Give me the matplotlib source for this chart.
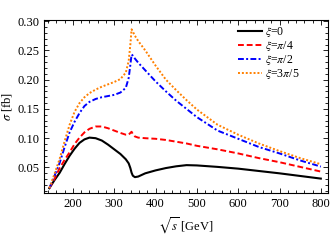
import matplotlib
matplotlib.use("Agg")
import matplotlib.pyplot as plt
from matplotlib.ticker import MultipleLocator

# sqrt(s) in GeV and cross sections in fb
sqrt_s = [143, 155, 168, 180, 192, 204, 216, 228, 240, 255, 270, 285, 300, 315,
          328, 335, 339, 342, 345, 350, 358, 375, 400, 425, 450, 475, 500, 550,
          600, 650, 700, 750, 800]

sigma_xi0 = [0.0146, 0.028, 0.041, 0.056, 0.070, 0.082, 0.092, 0.098, 0.101,
             0.100, 0.096, 0.089, 0.081, 0.073, 0.064, 0.057, 0.049, 0.041,
             0.036, 0.0335, 0.0345, 0.040, 0.045, 0.049, 0.052, 0.054, 0.0535,
             0.051, 0.048, 0.044, 0.040, 0.0355, 0.031]

sigma_xi_pi4 = [0.0146, 0.030, 0.049, 0.063, 0.076, 0.090, 0.101, 0.110, 0.116,
                0.120, 0.120, 0.117, 0.113, 0.109, 0.106, 0.106, 0.109, 0.111,
                0.107, 0.103, 0.101, 0.100, 0.099, 0.097, 0.094, 0.091, 0.087,
                0.081, 0.074, 0.066, 0.059, 0.051, 0.043]

sigma_xi_pi2 = [0.0146, 0.035, 0.058, 0.085, 0.110, 0.128, 0.143, 0.155, 0.162,
                0.167, 0.170, 0.172, 0.174, 0.178, 0.186, 0.203, 0.225, 0.243,
                0.241, 0.236, 0.229, 0.216, 0.197, 0.180, 0.164, 0.150, 0.136,
                0.113, 0.099, 0.085, 0.074, 0.062, 0.0515]

sigma_xi_3pi5 = [0.0146, 0.038, 0.065, 0.095, 0.123, 0.145, 0.160, 0.170, 0.177,
                 0.183, 0.188, 0.192, 0.196, 0.201, 0.212, 0.232, 0.260, 0.286,
                 0.282, 0.275, 0.266, 0.250, 0.224, 0.200, 0.182, 0.165, 0.149,
                 0.123, 0.106, 0.091, 0.078, 0.066, 0.0556]

plt.rcParams["font.family"] = ["Liberation Serif", "DejaVu Serif"]
plt.rcParams["mathtext.fontset"] = "stix"

fig = plt.figure(figsize=(3.32, 2.49), dpi=100)
ax = fig.add_axes([0.1325, 0.223, 0.855, 0.697])

ax.plot(sqrt_s, sigma_xi0, color="black", lw=1.5, label=r"$\xi$=0")
ax.plot(sqrt_s, sigma_xi_pi4, color="#ff0000", lw=1.4, ls=(0, (3, 1.5)),
        label=r"$\xi$=$\pi$/4")
ax.plot(sqrt_s, sigma_xi_pi2, color="#0000ff", lw=1.4, ls=(0, (3, 1.2, 1, 1.2)),
        label=r"$\xi$=$\pi$/2")
ax.plot(sqrt_s, sigma_xi_3pi5, color="#ff8000", lw=1.4, ls=(0, (1, 1)),
        label=r"$\xi$=3$\pi$/5")

ax.set_xlim(130, 817)
ax.set_ylim(0.0056, 0.302)
ax.xaxis.set_major_locator(MultipleLocator(100))
ax.xaxis.set_minor_locator(MultipleLocator(20))
ax.yaxis.set_major_locator(MultipleLocator(0.05))
ax.yaxis.set_minor_locator(MultipleLocator(0.01))
ax.yaxis.set_major_formatter(plt.FuncFormatter(lambda v, p: f"{v:.2f}"))
ax.tick_params(which="both", direction="in", top=True, right=True, labelsize=9,
               width=0.6)
ax.tick_params(which="major", length=3.5)
ax.tick_params(which="minor", length=2)
for sp in ax.spines.values():
    sp.set_linewidth(0.8)

ax.set_xlabel(r"$\sqrt{s}$ [GeV]", fontsize=9, labelpad=4)
ax.set_ylabel(r"$\sigma$ [fb]", fontsize=9, labelpad=2)

ax.legend(loc="upper right", bbox_to_anchor=(0.93, 1.02), frameon=False,
          fontsize=8.5, handlelength=2.0, handletextpad=0.3, labelspacing=0.0,
          borderaxespad=0.3)

fig.savefig("out.png", dpi=100)
